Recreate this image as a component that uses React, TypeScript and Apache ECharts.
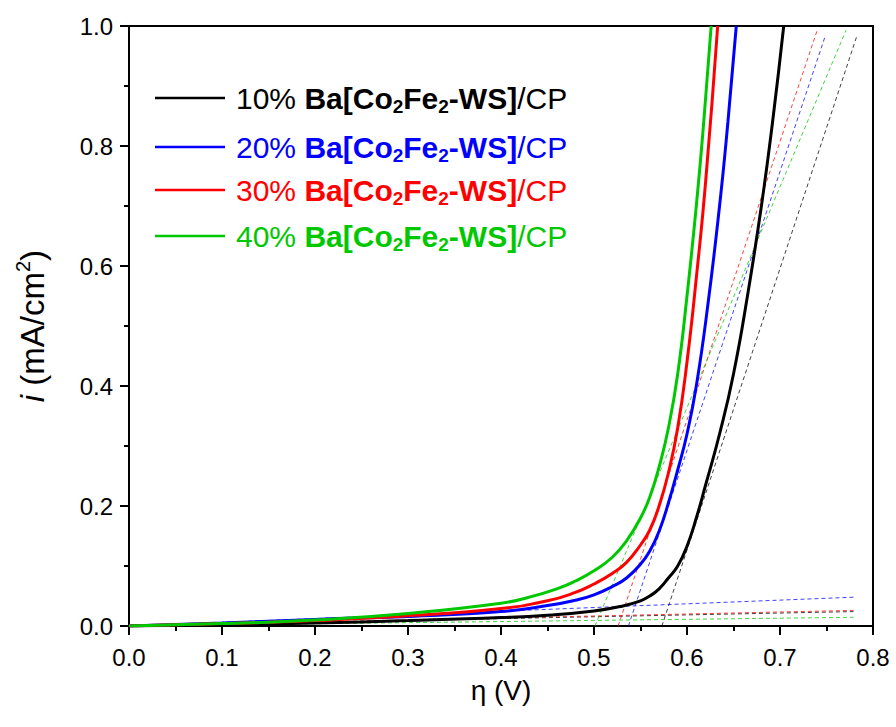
import React, { useEffect, useRef } from "react";
import * as echarts from "echarts";

// ---- data ----
const sampleLabels = ["10%", "20%", "30%", "40%"];
const sampleColors = ["#000000", "#0000ff", "#ff0000", "#00c800"];

const eta10 = [0, 0.1, 0.2, 0.3, 0.4, 0.45, 0.5, 0.53, 0.55, 0.56, 0.57, 0.58, 0.59, 0.6, 0.61, 0.62, 0.635, 0.65, 0.665, 0.68, 0.692, 0.704];
const cur10 = [0, 0.002, 0.005, 0.009, 0.014, 0.018, 0.025, 0.033, 0.042, 0.05, 0.062, 0.08, 0.1, 0.133, 0.18, 0.235, 0.32, 0.42, 0.55, 0.7, 0.84, 1.0];

const eta20 = [0, 0.1, 0.2, 0.3, 0.4, 0.45, 0.48, 0.5, 0.52, 0.535, 0.55, 0.56, 0.57, 0.58, 0.59, 0.6, 0.61, 0.622, 0.635, 0.644, 0.653];
const cur20 = [0, 0.005, 0.011, 0.016, 0.024, 0.034, 0.043, 0.052, 0.066, 0.08, 0.103, 0.125, 0.158, 0.205, 0.26, 0.32, 0.4, 0.53, 0.7, 0.84, 1.0];

const eta30 = [0, 0.1, 0.2, 0.3, 0.4, 0.45, 0.48, 0.5, 0.52, 0.535, 0.55, 0.56, 0.57, 0.58, 0.59, 0.6, 0.61, 0.62, 0.633];
const cur30 = [0, 0.004, 0.009, 0.017, 0.029, 0.042, 0.056, 0.07, 0.088, 0.106, 0.135, 0.16, 0.2, 0.255, 0.33, 0.44, 0.58, 0.74, 1.0];

const eta40 = [0, 0.1, 0.2, 0.3, 0.4, 0.43, 0.46, 0.48, 0.5, 0.52, 0.535, 0.55, 0.56, 0.57, 0.58, 0.59, 0.6, 0.61, 0.618, 0.626];
const cur40 = [0, 0.004, 0.01, 0.021, 0.038, 0.048, 0.062, 0.075, 0.092, 0.115, 0.142, 0.18, 0.215, 0.265, 0.33, 0.42, 0.55, 0.7, 0.84, 1.0];

// tangent (dashed) lines: [eta start, i start, eta end, i end]
const steep10 = [0.573, 0, 0.783, 0.985];
const steep20 = [0.537, 0, 0.749, 0.985];
const steep30 = [0.526, 0, 0.74, 0.993];
const steep40 = [0.501, 0, 0.771, 0.993];
const base10 = [0, 0, 0.779, 0.024];
const base20 = [0, 0, 0.779, 0.048];
const base30 = [0, 0, 0.779, 0.026];
const base40 = [0, 0, 0.779, 0.0145];

const xTicks = [0, 0.1, 0.2, 0.3, 0.4, 0.5, 0.6, 0.7, 0.8];
const yTicks = [0, 0.2, 0.4, 0.6, 0.8, 1.0];

const etas = [eta10, eta20, eta30, eta40];
const curs = [cur10, cur20, cur30, cur40];
const steeps = [steep10, steep20, steep30, steep40];
const bases = [base10, base20, base30, base40];

const FONT = "'Liberation Sans', Arial, sans-serif";

export default function App() {
  const ref = useRef<HTMLDivElement>(null);
  useEffect(() => {
    if (!ref.current) return;
    const chart = echarts.init(ref.current, null, { renderer: "svg" });

    const pair = (a: number[], b: number[]) => a.map((v, k) => [v, b[k]]);
    const seg = (s: number[]) => [[s[0], s[1]], [s[2], s[3]]];

    const dashed: any[] = [];
    for (let k = 0; k < 4; k++) {
      for (const s of [bases[k], steeps[k]]) {
        dashed.push({
          type: "line",
          data: seg(s),
          showSymbol: false,
          silent: true,
          lineStyle: { color: sampleColors[k], width: 1, type: [4, 3], opacity: 0.75 },
          z: 1,
        });
      }
    }
    const solid = [0, 1, 2, 3].map((k) => ({
      type: "line",
      name: sampleLabels[k],
      data: pair(etas[k], curs[k]),
      showSymbol: false,
      smooth: 0.5,
      silent: true,
      lineStyle: { color: sampleColors[k], width: 3 },
      z: 3,
    }));

    const legendYs = [98, 147, 190, 236];
    const legendGraphics: any[] = [];
    for (let k = 0; k < 4; k++) {
      const c = sampleColors[k];
      legendGraphics.push({
        type: "line",
        shape: { x1: 155, y1: legendYs[k], x2: 225, y2: legendYs[k] },
        style: { stroke: c, lineWidth: 2.5 },
      });
      legendGraphics.push({
        type: "text",
        x: 236,
        y: legendYs[k],
        style: {
          text: `{n|${sampleLabels[k]} }{b|Ba[Co}{s|2}{b|Fe}{s|2}{b|-WS]}{n|/CP}`,
          verticalAlign: "middle",
          rich: {
            n: { fontSize: 30, fontFamily: FONT, fill: c, lineHeight: 36, verticalAlign: "middle" },
            b: { fontSize: 30, fontFamily: FONT, fontWeight: "bold", fill: c, lineHeight: 36, verticalAlign: "middle" },
            s: { fontSize: 19, fontFamily: FONT, fontWeight: "bold", fill: c, lineHeight: 19, verticalAlign: "bottom" },
          },
        },
      });
    }

    chart.setOption({
      animation: false,
      backgroundColor: "#ffffff",
      grid: { left: 129, top: 26, width: 744, height: 600, show: true, borderColor: "#000", borderWidth: 2, containLabel: false },
      xAxis: {
        type: "value",
        min: 0,
        max: 0.8,
        interval: 0.1,
        name: "η (V)",
        nameLocation: "middle",
        nameGap: 50,
        nameTextStyle: { fontSize: 28, fontFamily: FONT, color: "#000" },
        axisLine: { show: true, onZero: false, lineStyle: { color: "#000", width: 2 } },
        axisTick: { show: true, inside: false, length: 9, lineStyle: { color: "#000", width: 2 } },
        minorTick: { show: true, splitNumber: 2, length: 5, lineStyle: { color: "#000", width: 2 } },
        axisLabel: { fontSize: 24, fontFamily: FONT, color: "#000", margin: 19, formatter: (v: number) => (xTicks.includes(Math.round(v * 10) / 10) ? v.toFixed(1) : "") },
        splitLine: { show: false },
      },
      yAxis: {
        type: "value",
        min: 0,
        max: 1.0,
        interval: 0.2,
        name: "{it|i} (mA/cm{sup|2})",
        nameLocation: "middle",
        nameGap: 78,
        nameTextStyle: {
          fontSize: 33,
          fontFamily: FONT,
          color: "#000",
          rich: {
            it: { fontSize: 33, fontFamily: FONT, fontStyle: "italic", color: "#000", lineHeight: 38, verticalAlign: "middle" },
            sup: { fontSize: 20, fontFamily: FONT, color: "#000", lineHeight: 20, verticalAlign: "top" },
          },
        },
        axisLine: { show: true, onZero: false, lineStyle: { color: "#000", width: 2 } },
        axisTick: { show: true, inside: false, length: 9, lineStyle: { color: "#000", width: 2 } },
        minorTick: { show: true, splitNumber: 2, length: 5, lineStyle: { color: "#000", width: 2 } },
        axisLabel: { fontSize: 24, fontFamily: FONT, color: "#000", margin: 16, formatter: (v: number) => (yTicks.some((t) => Math.abs(t - v) < 1e-6) ? v.toFixed(1) : "") },
        splitLine: { show: false },
      },
      series: [...dashed, ...solid],
      graphic: legendGraphics,
    });
    return () => chart.dispose();
  }, []);
  return <div ref={ref} style={{ position: "absolute", left: 0, top: 0, width: 896, height: 727 }} />;
}
